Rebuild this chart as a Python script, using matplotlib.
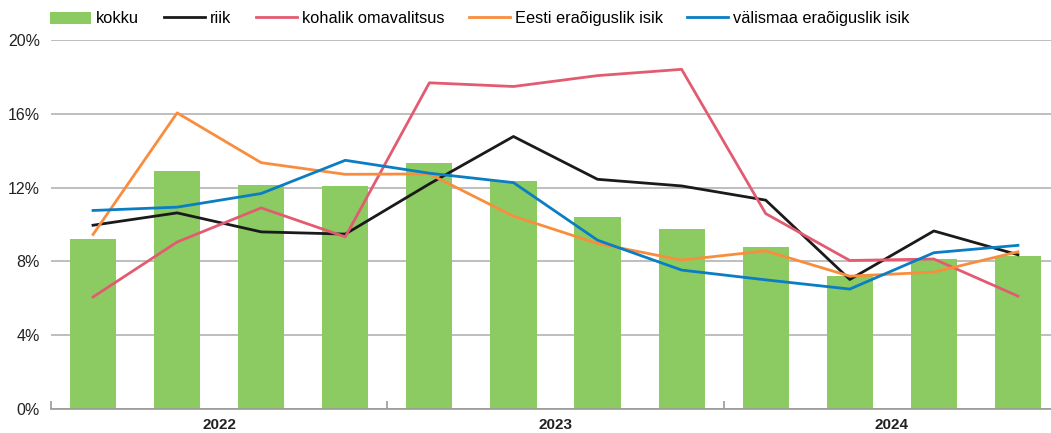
import matplotlib
matplotlib.use("Agg")
import matplotlib.pyplot as plt
import numpy as np

plt.rcParams['font.family'] = ['Liberation Sans', 'DejaVu Sans']

years = ["2022", "2023", "2024"]
quarters_per_year = 4
kokku = [9.24, 12.88, 12.16, 12.09, 13.35, 12.36, 10.41, 9.73, 8.77, 7.19, 8.11, 8.27]
riik = [9.96, 10.63, 9.60, 9.48, 12.2, 14.77, 12.45, 12.09, 11.32, 7.02, 9.65, 8.36]
kohalik = [6.07, 9.05, 10.90, 9.33, 17.68, 17.48, 18.07, 18.41, 10.59, 8.05, 8.13, 6.12]
eesti = [9.46, 16.05, 13.35, 12.72, 12.74, 10.45, 8.97, 8.07, 8.57, 7.20, 7.42, 8.52]
valismaa = [10.76, 10.94, 11.68, 13.48, 12.78, 12.27, 9.15, 7.53, 7.00, 6.50, 8.47, 8.87]
yticks = [0, 4, 8, 12, 16, 20]

labels = ["kokku", "riik", "kohalik omavalitsus", "Eesti eraõiguslik isik", "välismaa eraõiguslik isik"]
colors = ["#8CCB62", "#1a1a1a", "#E35B70", "#F98D3D", "#0A7DC4"]

fig = plt.figure(figsize=(10.51, 4.33), dpi=100)
ax = fig.add_axes([51/1051, (433-409)/433, (1060-51)/1051, (409-40)/433])

x = np.arange(len(kokku))
h0 = ax.bar(x, kokku, width=0.55, color=colors[0], label=labels[0], zorder=2)
lw = 2.0
h1, = ax.plot(x, riik, color=colors[1], lw=lw, label=labels[1], zorder=3)
h2, = ax.plot(x, kohalik, color=colors[2], lw=lw, label=labels[2], zorder=3)
h3, = ax.plot(x, eesti, color=colors[3], lw=lw, label=labels[3], zorder=3)
h4, = ax.plot(x, valismaa, color=colors[4], lw=lw, label=labels[4], zorder=3)

ax.set_xlim(-0.5, len(kokku) - 0.5)
ax.set_ylim(0, 20)
ax.set_yticks(yticks)
ax.set_yticklabels([f"{v}%" for v in yticks])
ax.yaxis.grid(True, color="#b3b3b3", lw=1.2, zorder=0)
ax.set_axisbelow(True)
for s in ["left", "right", "top"]:
    ax.spines[s].set_visible(False)
ax.spines["bottom"].set_color("#999999")
ax.spines["bottom"].set_linewidth(1.2)
ax.tick_params(axis="y", length=0, labelsize=11.5, pad=8, labelcolor="#222222")

# separator ticks between years
seps = [-0.5 + i * quarters_per_year for i in range(len(years) + 1)]
ax.set_xticks(seps)
ax.set_xticklabels([""] * len(seps))
ax.tick_params(axis="x", direction="in", length=6, color="#999999", width=1.2)
for i, yr in enumerate(years):
    cx = i * quarters_per_year + (quarters_per_year - 1) / 2
    ax.text(cx, -16/369, yr, transform=ax.get_xaxis_transform(), ha="center", va="center",
            fontsize=11, fontweight="bold", color="#222222")

fig.legend([h0, h1, h2, h3, h4], labels, loc="upper left", bbox_to_anchor=(39/1051, 1.0), ncol=5,
           frameon=False, fontsize=11.8, handlelength=2.5, handleheight=0.8,
           handletextpad=0.3, columnspacing=1.5, borderaxespad=0.3)

fig.savefig("out.png", dpi=100)
